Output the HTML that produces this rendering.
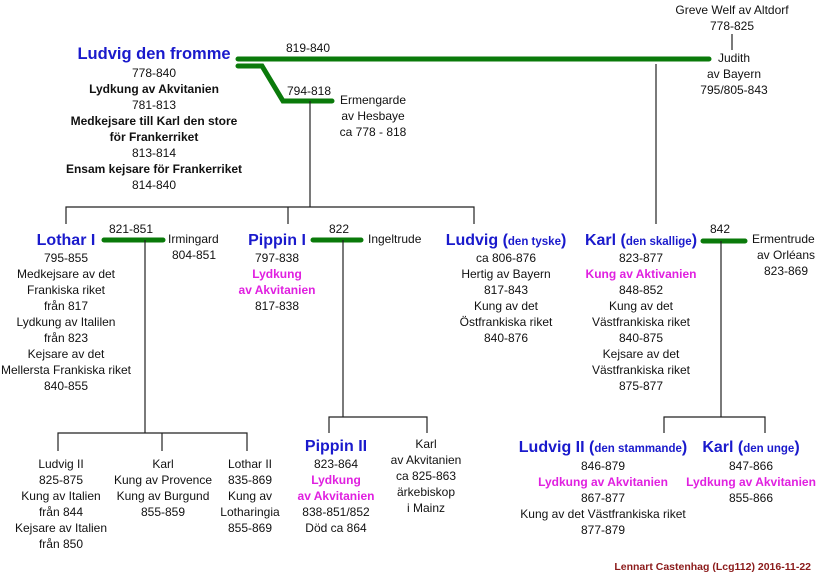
<!DOCTYPE html>
<html><head><meta charset="utf-8"><style>
html,body{margin:0;padding:0;background:#fff;}
svg{display:block;}
text{font-family:"Liberation Sans",sans-serif;font-size:12px;fill:#111;text-anchor:middle;}
.t{font-weight:bold;fill:#1a1acc;}
.m{fill:#e020e0;font-weight:bold;}
.b{font-weight:bold;}
.l{text-anchor:start;}
.g{stroke:#0a7a0a;stroke-width:5;stroke-linecap:round;fill:none;}
.k{stroke:#222;stroke-width:1.2;fill:none;}
</style></head><body>
<svg width="821" height="576" viewBox="0 0 821 576" xmlns="http://www.w3.org/2000/svg">
<path class="g" d="M238 59 L709 59"/>
<path class="g" d="M238 66 L262 66 L283 101 L332 101"/>
<path class="g" d="M104 240 L163 240"/>
<path class="g" d="M313 240 L361 240"/>
<path class="g" d="M703 241 L745 241"/>
<path class="k" d="M732 34 V50"/>
<path class="k" d="M310 101 V207 M66 224 V207 H474 V224 M288 207 V224"/>
<path class="k" d="M656 64 V224"/>
<path class="k" d="M145 240 V433 M58 451 V433 H247 V451 M162 433 V451"/>
<path class="k" d="M343 240 V417 M329 433 V417 H427 V433"/>
<path class="k" d="M721 241 V417 M664 433 V417 H765 V433"/>

<text class="t" x="154" y="59" style="font-size:16.5px">Ludvig den fromme</text>
<text x="154" y="77">778-840</text>
<text class="b" x="154" y="93">Lydkung av Akvitanien</text>
<text x="154" y="109">781-813</text>
<text class="b" x="154" y="125">Medkejsare till Karl den store</text>
<text class="b" x="154" y="141">för Frankerriket</text>
<text x="154" y="157">813-814</text>
<text class="b" x="154" y="173">Ensam kejsare för Frankerriket</text>
<text x="154" y="189">814-840</text>

<text x="308" y="52">819-840</text>
<text x="309" y="95">794-818</text>
<text x="373" y="104">Ermengarde</text>
<text x="373" y="120">av Hesbaye</text>
<text x="373" y="136">ca 778 - 818</text>

<text x="732" y="14">Greve Welf  av Altdorf</text>
<text x="732" y="30">778-825</text>
<text x="734" y="62">Judith</text>
<text x="734" y="78">av Bayern</text>
<text x="734" y="94">795/805-843</text>

<text class="t" x="66" y="245" style="font-size:16px">Lothar I</text>
<text x="131" y="233">821-851</text>
<text class="l" x="168" y="243">Irmingard</text>
<text x="194" y="259">804-851</text>
<text x="66" y="262">795-855</text>
<text x="66" y="278">Medkejsare av det</text>
<text x="66" y="294">Frankiska riket</text>
<text x="66" y="310">från 817</text>
<text x="66" y="326">Lydkung av Italilen</text>
<text x="66" y="342">från 823</text>
<text x="66" y="358">Kejsare av det</text>
<text x="66" y="374">Mellersta Frankiska riket</text>
<text x="66" y="390">840-855</text>

<text x="61" y="468">Ludvig II</text>
<text x="61" y="484">825-875</text>
<text x="61" y="500">Kung av Italien</text>
<text x="61" y="516">från 844</text>
<text x="61" y="532">Kejsare av Italien</text>
<text x="61" y="548">från 850</text>
<text x="163" y="468">Karl</text>
<text x="163" y="484">Kung av Provence</text>
<text x="163" y="500">Kung av Burgund</text>
<text x="163" y="516">855-859</text>
<text x="250" y="468">Lothar II</text>
<text x="250" y="484">835-869</text>
<text x="250" y="500">Kung av</text>
<text x="250" y="516">Lotharingia</text>
<text x="250" y="532">855-869</text>

<text class="t" x="277" y="245" style="font-size:16px">Pippin I</text>
<text x="339" y="233">822</text>
<text class="l" x="368" y="243">Ingeltrude</text>
<text x="277" y="262">797-838</text>
<text class="m" x="277" y="278">Lydkung</text>
<text class="m" x="277" y="294">av Akvitanien</text>
<text x="277" y="310">817-838</text>

<text class="t" x="336" y="451" style="font-size:16px">Pippin II</text>
<text x="336" y="468">823-864</text>
<text class="m" x="336" y="484">Lydkung</text>
<text class="m" x="336" y="500">av Akvitanien</text>
<text x="336" y="516">838-851/852</text>
<text x="336" y="532">Död ca 864</text>
<text x="426" y="448">Karl</text>
<text x="426" y="464">av Akvitanien</text>
<text x="426" y="480">ca 825-863</text>
<text x="426" y="496">ärkebiskop</text>
<text x="426" y="512">i Mainz</text>

<text class="t" x="506" y="245" style="font-size:16px">Ludvig (<tspan style="font-size:11.5px">den tyske</tspan>)</text>
<text x="506" y="262">ca 806-876</text>
<text x="506" y="278">Hertig av Bayern</text>
<text x="506" y="294">817-843</text>
<text x="506" y="310">Kung av det</text>
<text x="506" y="326">Östfrankiska riket</text>
<text x="506" y="342">840-876</text>

<text class="t" x="641" y="245" style="font-size:16px">Karl (<tspan style="font-size:11.5px">den skallige</tspan>)</text>
<text x="641" y="262">823-877</text>
<text class="m" x="641" y="278">Kung av Aktivanien</text>
<text x="641" y="294">848-852</text>
<text x="641" y="310">Kung av det</text>
<text x="641" y="326">Västfrankiska riket</text>
<text x="641" y="342">840-875</text>
<text x="641" y="358">Kejsare av det</text>
<text x="641" y="374">Västfrankiska riket</text>
<text x="641" y="390">875-877</text>

<text x="720" y="233">842</text>
<text class="l" x="752" y="243">Ermentrude</text>
<text x="786" y="259">av Orléans</text>
<text x="786" y="275">823-869</text>

<text class="t" x="603" y="452" style="font-size:16px">Ludvig II (<tspan style="font-size:11.5px">den stammande</tspan>)</text>
<text x="603" y="470">846-879</text>
<text class="m" x="603" y="486">Lydkung av Akvitanien</text>
<text x="603" y="502">867-877</text>
<text x="603" y="518">Kung av det Västfrankiska riket</text>
<text x="603" y="534">877-879</text>

<text class="t" x="751" y="452" style="font-size:16px">Karl (<tspan style="font-size:11.5px">den unge</tspan>)</text>
<text x="751" y="470">847-866</text>
<text class="m" x="751" y="486">Lydkung av Akvitanien</text>
<text x="751" y="502">855-866</text>

<text class="b" x="811" y="570" style="text-anchor:end;fill:#8b1a1a;font-size:10.5px">Lennart Castenhag (Lcg112)  2016-11-22</text>
</svg>
</body></html>
